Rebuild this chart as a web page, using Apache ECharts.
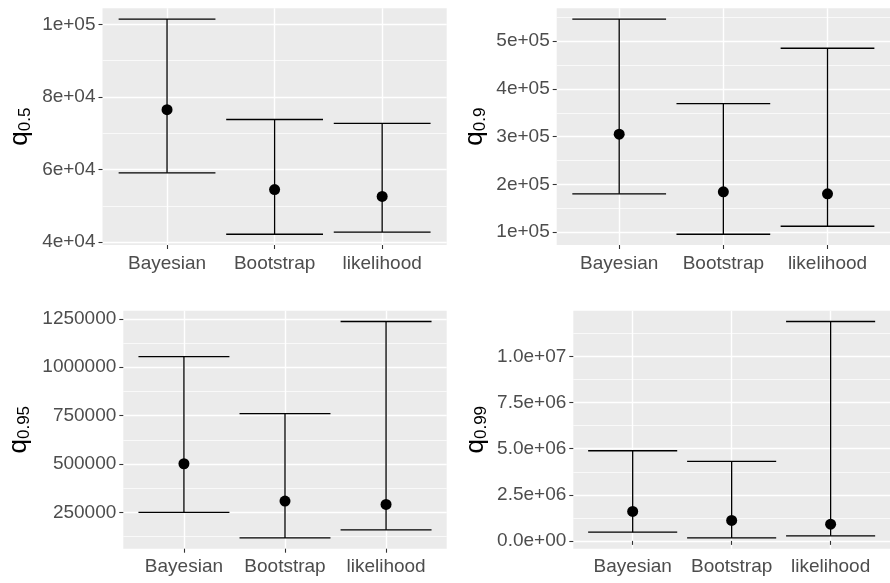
<!DOCTYPE html>
<html>
<head>
<meta charset="utf-8">
<script src="https://cdn.jsdelivr.net/npm/echarts@6/dist/echarts.min.js"></script>
<style>
  html, body { margin: 0; padding: 0; background: #ffffff; }
  #chart { width: 890px; height: 583px; }
</style>
</head>
<body>
<div id="chart"></div>
<script>
// Interval estimates of four quantiles (q0.5, q0.9, q0.95, q0.99) by estimation method
const methods = ['Bayesian', 'Bootstrap', 'likelihood'];
const methodPos = [1, 2, 3];

const q05Estimate = [76500, 54500, 52600];
const q05Lower = [59100, 42200, 42800];
const q05Upper = [101450, 73800, 72700];
const q05Ticks = [40000, 60000, 80000, 100000];
const q05TickLabels = ['4e+04', '6e+04', '8e+04', '1e+05'];
const q05MinorTicks = [50000, 70000, 90000];

const q09Estimate = [305400, 184600, 180400];
const q09Lower = [180400, 95800, 112500];
const q09Upper = [546500, 369400, 485400];
const q09Ticks = [100000, 200000, 300000, 400000, 500000];
const q09TickLabels = ['1e+05', '2e+05', '3e+05', '4e+05', '5e+05'];
const q09MinorTicks = [150000, 250000, 350000, 450000, 550000];

const q095Estimate = [501400, 308500, 291400];
const q095Lower = [250000, 118600, 160000];
const q095Upper = [1055000, 760000, 1236000];
const q095Ticks = [250000, 500000, 750000, 1000000, 1250000];
const q095TickLabels = ['250000', '500000', '750000', '1000000', '1250000'];
const q095MinorTicks = [125000, 375000, 625000, 875000, 1125000];

const q099Estimate = [1598000, 1109000, 908000];
const q099Lower = [473000, 163000, 272000];
const q099Upper = [4891000, 4315000, 11902000];
const q099Ticks = [0, 2500000, 5000000, 7500000, 10000000];
const q099TickLabels = ['0.0e+00', '2.5e+06', '5.0e+06', '7.5e+06', '1.0e+07'];
const q099MinorTicks = [1250000, 3750000, 6250000, 8750000, 11250000];

const FONT = '"Liberation Sans", Arial, sans-serif';

const panels = [
  { sub: '0.5', est: q05Estimate, lo: q05Lower, hi: q05Upper, ticks: q05Ticks, labels: q05TickLabels, minor: q05MinorTicks,
    box: { left: 102.5, top: 8.3, width: 344.2, height: 236.7 }, nameGap: 69 },
  { sub: '0.9', est: q09Estimate, lo: q09Lower, hi: q09Upper, ticks: q09Ticks, labels: q09TickLabels, minor: q09MinorTicks,
    box: { left: 556.7, top: 8.3, width: 344, height: 236.7 }, nameGap: 68 },
  { sub: '0.95', est: q095Estimate, lo: q095Lower, hi: q095Upper, ticks: q095Ticks, labels: q095TickLabels, minor: q095MinorTicks,
    box: { left: 123.3, top: 310.7, width: 323.4, height: 238 }, nameGap: 90 },
  { sub: '0.99', est: q099Estimate, lo: q099Lower, hi: q099Upper, ticks: q099Ticks, labels: q099TickLabels, minor: q099MinorTicks,
    box: { left: 573.3, top: 310.7, width: 327.4, height: 238 }, nameGap: 83 }
];

const grid = [], xAxis = [], yAxis = [], series = [];

panels.forEach(function (p, i) {
  // continuous-range padding of 5% on each side
  const dMin = Math.min.apply(null, p.lo), dMax = Math.max.apply(null, p.hi);
  const pad = (dMax - dMin) * 0.05;
  const yMin = dMin - pad, yMax = dMax + pad;

  grid.push(Object.assign({
    show: true, backgroundColor: '#EBEBEB', borderWidth: 0, containLabel: false
  }, p.box));

  xAxis.push({
    type: 'value', gridIndex: i, min: 0.4, max: 3.6,
    axisLine: { show: false },
    axisTick: { show: true, length: 4, lineStyle: { color: '#333333', width: 1.1 }, customValues: methodPos },
    axisLabel: {
      show: true, customValues: methodPos, margin: 9,
      color: '#4D4D4D', fontSize: 19, fontFamily: FONT,
      formatter: function (v) { return methods[methodPos.indexOf(Math.round(v))] || ''; }
    },
    splitLine: { show: true, lineStyle: { color: '#FFFFFF', width: 1.4 } }
  });

  // major axis: labels, ticks, major grid lines
  yAxis.push({
    type: 'value', gridIndex: i, min: yMin, max: yMax, position: 'left',
    name: '{q|q}{s|' + p.sub + '}',
    nameLocation: 'middle', nameRotate: 90, nameGap: p.nameGap,
    nameTextStyle: {
      color: '#000000', fontFamily: FONT,
      rich: {
        q: { fontSize: 26, fontFamily: FONT, color: '#000', lineHeight: 28, verticalAlign: 'middle' },
        s: { fontSize: 17, fontFamily: FONT, color: '#000', lineHeight: 14, verticalAlign: 'bottom' }
      }
    },
    axisLine: { show: false },
    axisTick: { show: true, length: 4, lineStyle: { color: '#333333', width: 1.1 }, customValues: p.ticks },
    axisLabel: {
      show: true, customValues: p.ticks, margin: 7,
      color: '#4D4D4D', fontSize: 19, fontFamily: FONT,
      formatter: function (v) {
        const k = p.ticks.findIndex(function (t) { return Math.abs(t - v) < 1e-6 * (Math.abs(t) + 1); });
        return k >= 0 ? p.labels[k] : '';
      }
    },
    splitLine: { show: true, lineStyle: { color: '#FFFFFF', width: 1.4 } }
  });
  // companion axis carrying only the minor grid lines
  yAxis.push({
    type: 'value', gridIndex: i, min: yMin, max: yMax, position: 'left',
    axisLine: { show: false },
    axisTick: { show: false, customValues: p.minor },
    axisLabel: { show: false, customValues: p.minor },
    splitLine: { show: true, lineStyle: { color: '#FFFFFF', width: 0.7 } }
  });

  const yIdx = yAxis.length - 2;

  series.push({
    type: 'custom', xAxisIndex: i, yAxisIndex: yIdx,
    data: methodPos.map(function (x, k) { return [x, p.lo[k], p.hi[k]]; }),
    encode: { x: 0, y: [1, 2] },
    renderItem: function (params, api) {
      const x = api.value(0), lo = api.value(1), hi = api.value(2);
      const top = api.coord([x, hi]);
      const bot = api.coord([x, lo]);
      const half = api.size([0.9, 0])[0] / 2;
      const style = { stroke: '#000000', lineWidth: 1.3 };
      return {
        type: 'group',
        children: [
          { type: 'line', shape: { x1: top[0], y1: top[1], x2: bot[0], y2: bot[1] }, style: style },
          { type: 'line', shape: { x1: top[0] - half, y1: top[1], x2: top[0] + half, y2: top[1] }, style: style },
          { type: 'line', shape: { x1: bot[0] - half, y1: bot[1], x2: bot[0] + half, y2: bot[1] }, style: style }
        ]
      };
    },
    z: 3, silent: true
  });

  series.push({
    type: 'scatter', xAxisIndex: i, yAxisIndex: yIdx,
    data: methodPos.map(function (x, k) { return [x, p.est[k]]; }),
    symbol: 'circle', symbolSize: 11,
    itemStyle: { color: '#000000', opacity: 1 },
    z: 4, silent: true
  });
});

const chart = echarts.init(document.getElementById('chart'), null, { renderer: 'canvas' });
chart.setOption({
  animation: false,
  backgroundColor: '#FFFFFF',
  textStyle: { fontFamily: FONT },
  grid: grid, xAxis: xAxis, yAxis: yAxis, series: series
});
</script>
</body>
</html>
